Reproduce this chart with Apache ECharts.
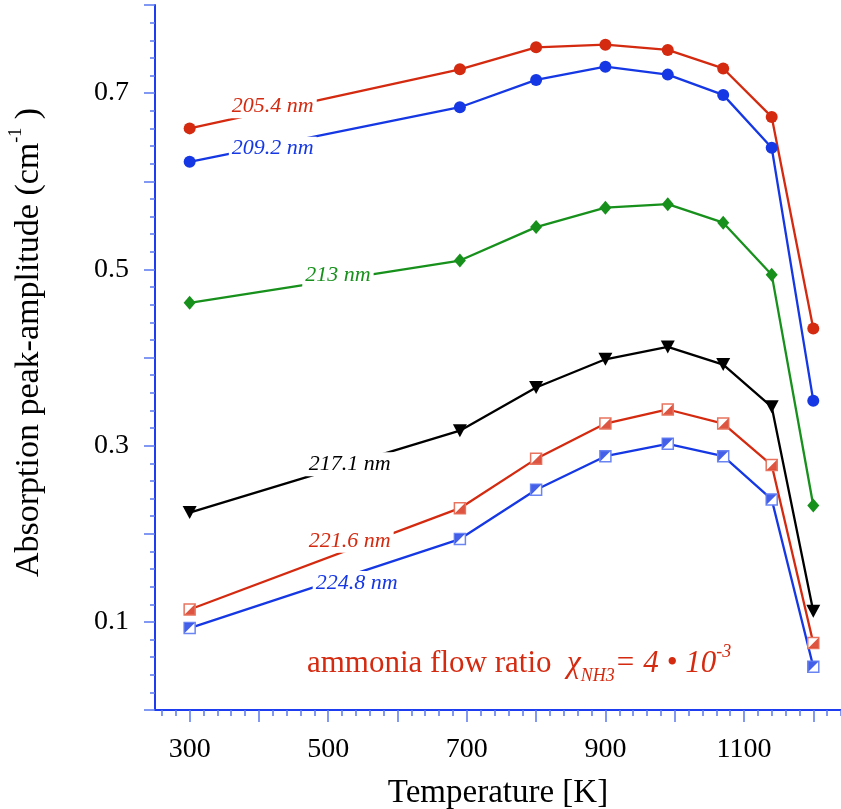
<!DOCTYPE html>
<html>
<head>
<meta charset="utf-8">
<script src="https://cdn.jsdelivr.net/npm/echarts@6/dist/echarts.min.js"></script>
<style>
html,body{margin:0;padding:0;background:#fff;}
#main{width:841px;height:809px;}
</style>
</head>
<body>
<div id="main"></div>
<script>
// ---- data ----
const temperatures = [300, 690, 800, 900, 990, 1070, 1140, 1200];
const amp2054 = [0.660, 0.727, 0.752, 0.755, 0.749, 0.728, 0.673, 0.433];
const amp2092 = [0.622, 0.684, 0.715, 0.730, 0.721, 0.698, 0.638, 0.351];
const amp213  = [0.462, 0.510, 0.548, 0.570, 0.574, 0.553, 0.494, 0.232];
const amp2171 = [0.224, 0.317, 0.366, 0.398, 0.412, 0.392, 0.344, 0.112];
const amp2216 = [0.114, 0.229, 0.285, 0.325, 0.341, 0.325, 0.278, 0.076];
const amp2248 = [0.093, 0.194, 0.250, 0.288, 0.302, 0.288, 0.239, 0.049];
const seriesNames = ['205.4 nm', '209.2 nm', '213 nm', '217.1 nm', '221.6 nm', '224.8 nm'];
const xMajorTicks = [300, 400, 500, 600, 700, 800, 900, 1000, 1100, 1200];
const xMinorTicks = [];
for (let v = 260; v <= 1240; v += 20) xMinorTicks.push(v);
const xTickLabels = [300, 500, 700, 900, 1100];
const yTickLabels = [0.1, 0.3, 0.5, 0.7];
// label anchor points in data space (temperature, amplitude)
const labelAnchors = [[420, 0.685], [420, 0.637], [514, 0.493], [531, 0.279], [531, 0.192], [541, 0.144]];

// ---- styles ----
const RED = '#d42a10', BLUE = '#1538e4', GREEN = '#17901c', BLACK = '#000000';
const AXIS = '#1e3cf0', TICK = '#5a78f0';
const SERIF = "'Liberation Serif', 'Times New Roman', serif";

const pairs = vals => temperatures.map((t, i) => [t, vals[i]]);

function lineSeries(name, vals, color, extra) {
  return Object.assign({
    name: name, type: 'line', data: pairs(vals), z: 2,
    lineStyle: { color: color, width: 2.3 },
    itemStyle: { color: color },
    symbolSize: 12
  }, extra || {});
}

const chart = echarts.init(document.getElementById('main'), null, { renderer: 'canvas' });
const option = {
  animation: false,
  backgroundColor: '#fff',
  grid: { left: 155, top: 5, right: 0, bottom: 99, containLabel: false, outerBoundsMode: 'none' },
  xAxis: [{
    type: 'value', min: 250, max: 1240, position: 'bottom',
    axisLine: { show: true, onZero: false, lineStyle: { color: AXIS, width: 2 } },
    axisTick: { show: true, customValues: xMajorTicks, length: 12, lineStyle: { color: TICK, width: 1.5 } },
    axisLabel: { customValues: xTickLabels, formatter: v => String(v), fontSize: 28, fontFamily: SERIF, color: '#000', margin: 26 },
    splitLine: { show: false },
    name: 'Temperature [K]', nameLocation: 'middle', nameGap: 67,
    nameTextStyle: { fontSize: 33, fontFamily: SERIF, color: '#000' }
  }, {
    type: 'value', min: 250, max: 1240, position: 'bottom',
    axisLine: { show: false },
    axisTick: { show: true, customValues: xMinorTicks, length: 6, lineStyle: { color: TICK, width: 1.5 } },
    axisLabel: { show: false },
    splitLine: { show: false }
  }],
  yAxis: {
    type: 'value', min: 0, max: 0.8, interval: 0.1,
    axisLine: { show: true, onZero: false, lineStyle: { color: AXIS, width: 2 } },
    axisTick: { show: true, length: 11, lineStyle: { color: TICK, width: 1.5 } },
    minorTick: { show: true, splitNumber: 5, length: 5, lineStyle: { color: TICK, width: 1.5 } },
    axisLabel: { customValues: yTickLabels, formatter: v => v.toFixed(1), fontSize: 28, fontFamily: SERIF, color: '#000', margin: 26 },
    splitLine: { show: false },
    minorSplitLine: { show: false },
    name: '{m|Absorption peak-amplitude (cm}{s|-1}{m| )}', nameLocation: 'middle', nameGap: 104,
    nameTextStyle: {
      fontFamily: SERIF, color: '#000', padding: [0, 0, 0, 30],
      rich: {
        m: { fontSize: 34, fontFamily: SERIF, color: '#000', lineHeight: 44, verticalAlign: 'middle' },
        s: { fontSize: 18, fontFamily: SERIF, color: '#000', lineHeight: 18, verticalAlign: 'top' }
      }
    }
  },
  series: [
    lineSeries(seriesNames[0], amp2054, RED, { symbol: 'circle' }),
    lineSeries(seriesNames[1], amp2092, BLUE, { symbol: 'circle' }),
    lineSeries(seriesNames[2], amp213, GREEN, { symbol: 'diamond', symbolSize: [12, 14] }),
    lineSeries(seriesNames[3], amp2171, BLACK, { symbol: 'triangle', symbolRotate: 180, symbolSize: [14, 13] }),
    lineSeries(seriesNames[4], amp2216, RED, { symbol: 'rect', symbolSize: 11,
      itemStyle: { color: '#fff', borderColor: '#e8745f', borderWidth: 1.5 } }),
    lineSeries(seriesNames[5], amp2248, BLUE, { symbol: 'rect', symbolSize: 11,
      itemStyle: { color: '#fff', borderColor: '#6a84f2', borderWidth: 1.5 } }),
    { name: seriesNames[4] + ' fill', type: 'scatter', z: 4, data: pairs(amp2216),
      symbol: 'path://M10,0 L10,10 L0,10 Z', symbolSize: 10, itemStyle: { color: RED } },
    { name: seriesNames[5] + ' fill', type: 'scatter', z: 4, data: pairs(amp2248),
      symbol: 'path://M0,0 L10,0 L0,10 Z', symbolSize: 10, itemStyle: { color: BLUE } }
  ]
};
chart.setOption(option);

const labelColors = [RED, BLUE, GREEN, BLACK, RED, BLUE];
const graphics = seriesNames.map((name, i) => {
  const p = chart.convertToPixel({ gridIndex: 0 }, labelAnchors[i]);
  return {
    type: 'text', x: p[0], y: p[1], z: 100,
    style: {
      text: name, fill: labelColors[i], fontSize: 22, fontStyle: 'italic', fontFamily: SERIF,
      align: 'center', verticalAlign: 'middle', backgroundColor: '#fff', padding: [1, 3]
    }
  };
});
graphics.push({
  type: 'text', x: 307, y: 664, z: 100,
  style: {
    text: '{a|ammonia flow ratio  }{c|χ}{s|NH3}{c|= 4 • 10}{p|-3}',
    verticalAlign: 'middle', align: 'left',
    rich: {
      a: { fontSize: 31, fontFamily: SERIF, fill: RED, lineHeight: 42, verticalAlign: 'middle' },
      c: { fontSize: 31, fontFamily: SERIF, fontStyle: 'italic', fill: RED, lineHeight: 42, verticalAlign: 'middle' },
      s: { fontSize: 18, fontFamily: SERIF, fontStyle: 'italic', fill: RED, lineHeight: 18, verticalAlign: 'bottom' },
      p: { fontSize: 18, fontFamily: SERIF, fontStyle: 'italic', fill: RED, lineHeight: 18, verticalAlign: 'top' }
    }
  }
});
chart.setOption({ graphic: graphics });
</script>
</body>
</html>
